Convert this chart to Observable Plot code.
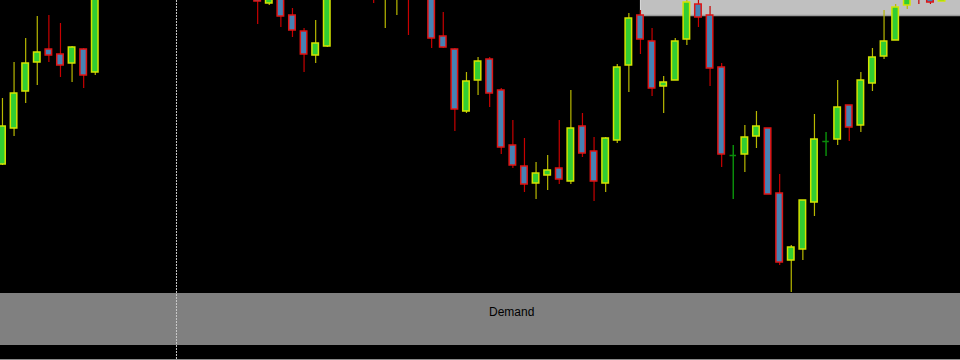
<!DOCTYPE html>
<html>
<head>
<meta charset="utf-8">
<script src="https://cdn.jsdelivr.net/npm/d3@7"></script>
<script src="https://cdn.jsdelivr.net/npm/@observablehq/plot@0.6"></script>
<style>
  html, body { margin: 0; padding: 0; background: #000; overflow: hidden; }
  #chart svg { display: block; }
</style>
</head>
<body>
<div id="chart"></div>
<script>
// Candle slot (bar index), open, high, low, close (price units)
const slots  = [0,1,2,3,4,5,6,7,8,22,23,24,25,26,27,28,32,33,34,35,37,38,39,40,41,42,43,44,45,46,47,48,49,50,51,52,53,54,55,56,57,58,59,60,61,62,63,64,65,66,67,68,69,70,71,72,73,74,75,76,77,78,79,80,81];
const opens  = [196,232,269,298,311,306,297,311,288,380,357,372,345,329,305,314,380,365,368,385,375,324,311,249,280,301,270,215,194,177,185,192,179,234,209,177,220,295,345,319,274,280,321,356,345,293,205,206,224,232,167,100,111,158,219,221,255,235,277,304,320,355,372,368,359];
const highs  = [262,298,322,344,345,337,314,312,380,385,378,380,352,332,340,385,390,395,390,392,380,348,312,288,303,303,272,240,222,198,205,240,270,247,223,223,296,347,350,332,284,322,362,362,354,297,215,235,249,232,186,115,160,246,228,280,255,288,312,350,356,370,378,372,370];
const lows   = [195,224,257,275,298,283,278,272,285,336,355,333,323,288,297,313,357,332,345,325,312,312,229,247,265,253,206,192,168,161,170,176,176,203,159,168,217,268,306,264,247,280,315,333,274,193,161,188,212,166,95,68,100,144,204,215,219,228,269,301,320,351,356,356,359];
const closes = [234,267,297,308,305,295,313,285,375,359,372,344,330,306,317,380,366,385,378,370,322,313,251,279,299,267,213,195,176,187,190,181,232,207,179,222,293,342,321,272,278,319,358,343,292,206,205,223,234,166,98,113,160,221,219,253,233,280,303,319,353,365,366,358,366];

// Price zones
const zoneLabels = ["Demand", ""];
const zoneStart  = [-4, 55];
const zoneEnd    = [91.8, 95];
const zoneLow    = [15, 345];
const zoneHigh   = [67, 400];
const zoneFills  = ["#808080", "#c0c0c0"];

// Vertical session separator (bar index)
const separators = [15];

const candles = slots.map((s, k) => ({slot: s, open: opens[k], high: highs[k], low: lows[k], close: closes[k]}));
const doji = candles.filter(d => d.open === d.close);
const up = candles.filter(d => d.close > d.open);
const down = candles.filter(d => d.close < d.open);
const zones = zoneLabels.map((l, k) => ({label: l, x1: zoneStart[k], x2: zoneEnd[k], y1: zoneLow[k], y2: zoneHigh[k], fill: zoneFills[k]}));

const half = 0.28;

const chart = Plot.plot({
  width: 960,
  height: 360,
  margin: 0,
  x: {type: "linear", domain: [-0.17, 82.59], axis: null},
  y: {domain: [0, 360], axis: null},
  style: {background: "#000", fontFamily: "'Liberation Sans', Arial, sans-serif"},
  marks: [
    Plot.rect(zones, {x1: "x1", x2: "x2", y1: "y1", y2: "y2", fill: "fill", clip: true}),
    Plot.ruleY(zones.filter(z => z.label === ""), {y: "y1", x1: "x1", x2: "x2", stroke: "#9a9a9a", strokeWidth: 1.5, clip: true}),
    Plot.ruleX(zones.filter(z => z.label === ""), {x: "x1", y1: "y1", y2: "y2", stroke: "#d8d8d8", strokeWidth: 1, clip: true}),
    Plot.ruleY([1], {stroke: "#8a8a8a", strokeWidth: 1}),
    Plot.ruleX(separators, {stroke: "#c8c8c8", strokeWidth: 1, strokeDasharray: "2,1"}),
    Plot.ruleX(up, {x: "slot", y1: "low", y2: "high", stroke: "#b8b800", strokeWidth: 1.2, clip: true}),
    Plot.ruleX(down, {x: "slot", y1: "low", y2: "high", stroke: "#c80000", strokeWidth: 1.2, clip: true}),
    Plot.ruleX(doji, {x: "slot", y1: "low", y2: "high", stroke: "#0a8c0a", strokeWidth: 1.5, clip: true}),
    Plot.ruleY(doji, {y: "close", x1: d => d.slot - half, x2: d => d.slot + half, stroke: "#0a8c0a", strokeWidth: 1.5, clip: true}),
    Plot.rect(up, {x1: d => d.slot - half, x2: d => d.slot + half, y1: "open", y2: "close", fill: "#32cd32", stroke: "#d4e400", strokeWidth: 1.5, clip: true}),
    Plot.rect(down, {x1: d => d.slot - half, x2: d => d.slot + half, y1: "open", y2: "close", fill: "#4682b4", stroke: "#e01414", strokeWidth: 1.5, clip: true}),
    Plot.text(zones.filter(z => z.label !== ""), {x: d => (d.x1 + d.x2) / 2, y: "y2", dy: 19, text: "label", fill: "#000", fontSize: 12})
  ]
});
document.getElementById("chart").appendChild(chart);
</script>
</body>
</html>
